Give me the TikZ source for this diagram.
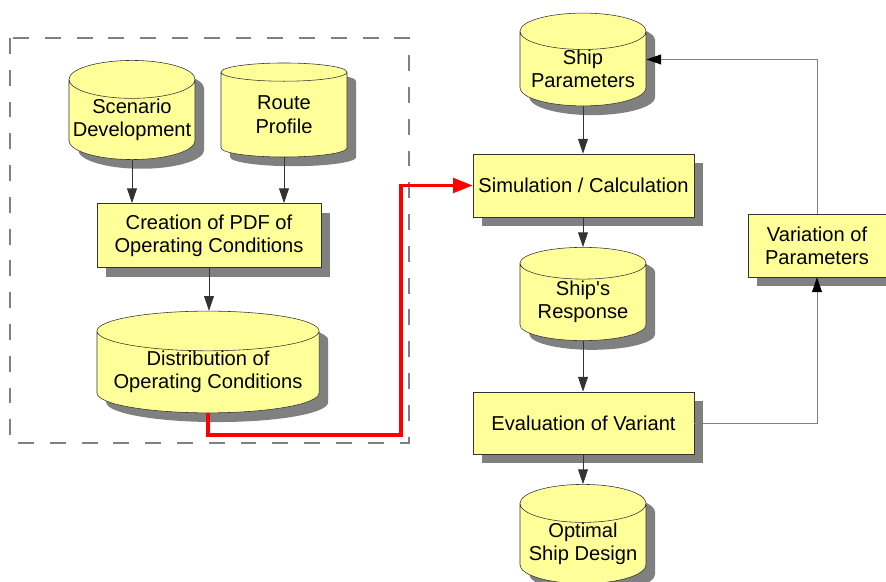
\documentclass[tikz,border=0pt]{standalone}
\usepackage{fontspec}
\setmainfont{Liberation Sans}
\usetikzlibrary{shapes.geometric,shadows,arrows.meta}

\definecolor{boxfill}{HTML}{FFFF99}
\definecolor{shadowgray}{HTML}{808080}
\definecolor{linegray}{HTML}{333333}

\begin{document}
\begin{tikzpicture}[x=0.025cm,y=-0.025cm,
        font=\fontsize{14.3}{16.5}\selectfont,
        flat/.style={general shadow={fill=shadowgray,shadow xshift=0.23cm,shadow yshift=-0.23cm}},
        store/.style={cylinder,shape border rotate=90,draw=linegray,fill=boxfill,flat,anchor=shape center,
            align=center,inner sep=0pt,minimum width=3.15cm,minimum height=2.35cm,aspect=0.32},
        task/.style={rectangle,draw=linegray,fill=boxfill,flat,align=center,inner sep=0pt,
            minimum height=1.6cm},
        flow/.style={draw=linegray,line width=0.6pt,-{Triangle[length=10.5pt,width=7pt]}},
        back/.style={draw=shadowgray,line width=0.7pt,-{Triangle[length=10.5pt,width=7pt,color=black]}},
        redline/.style={draw=red,line width=2.2pt,-{Triangle[length=14pt,width=10.5pt]}}]
    \useasboundingbox (0,0) rectangle (886,582);

    % dashed frame round the operating conditions part
    \draw[draw=shadowgray,line width=0.8pt,dash pattern=on 11.3pt off 11.3pt] (10,38) rectangle (409,443);

    % left part
    \node[store] (scen) at (132,110) {Scenario\\Development};
    \node[store] (route) at (284,110) {Route\\Profile};
    \node[task,minimum width=5.6cm] (creat) at (209,235.5) {Creation of PDF of\\Operating Conditions};
    \node[store,minimum width=5.55cm,aspect=0.21] (distr) at (208,362) {Distribution of\\Operating Conditions};

    \draw[flow] (scen.south) -- (scen.south |- creat.north);
    \draw[flow] (route.south) -- (route.south |- creat.north);
    \draw[flow] (creat.south) -- (creat.south |- distr.north);

    % right part
    \node[store,minimum height=2.3cm,aspect=0.35] (shippar) at (583,59.5) {Ship\\Parameters};
    \node[task,minimum width=5.525cm,minimum height=1.575cm] (simul) at (583.5,185.5) {Simulation / Calculation};
    \node[store,minimum height=2.33cm,aspect=0.35] (resp) at (583,294) {Ship\textquotesingle s\\Response};
    \node[task,minimum width=5.525cm,minimum height=1.55cm] (eval) at (583.5,423) {Evaluation of Variant};
    \node[store,minimum height=2.35cm,aspect=0.35] (optim) at (583,534) {Optimal\\Ship Design};
    \node[task,minimum width=3.45cm,minimum height=1.575cm] (vari) at (817,245.5) {Variation of\\Parameters};

    \draw[flow] (shippar.south) -- (simul.north -| shippar.south);
    \draw[flow] (simul.south -| resp.north) -- (resp.north);
    \draw[flow] (resp.south) -- (eval.north -| resp.south);
    \draw[flow] (eval.south -| optim.north) -- (optim.north);

    % loop back over the parameters
    \draw[back] (eval.east) -| (vari.south);
    \draw[back] (vari.north) |- (shippar.east |- shippar.shape center);

    % red link between both parts
    \coordinate (redturn) at (401,435);
    \draw[redline] (distr.south) |- (redturn) |- (simul.west);
\end{tikzpicture}
\end{document}
